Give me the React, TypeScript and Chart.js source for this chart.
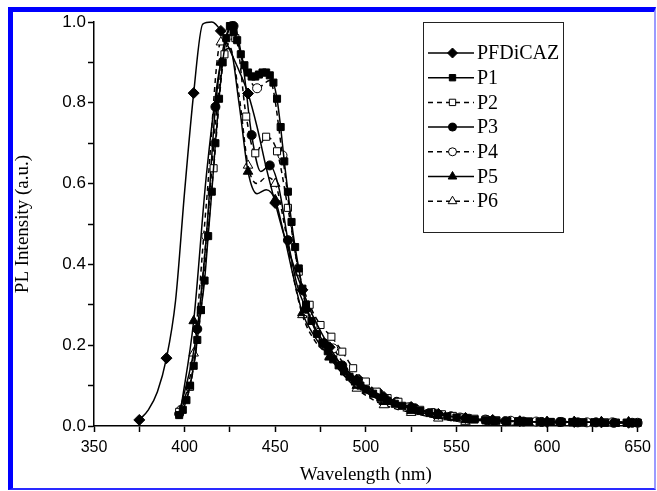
import React, { useEffect, useRef } from 'react';
import { Chart, registerables } from 'chart.js';
import { drawPoint } from 'chart.js/helpers';

Chart.register(...registerables);

// ---------- data ----------
const SERIES_NAMES = ['PFDiCAZ', 'P1', 'P2', 'P3', 'P4', 'P5', 'P6'];

const PFDICAZ_X = [375, 380, 385, 390, 395, 400, 405, 410, 415, 420, 425, 430, 435, 440, 445, 450, 455, 460, 465, 470, 475, 480, 485, 490, 495, 500, 510, 525, 540, 555, 570, 585, 600, 615, 630, 645];
const PFDICAZ_Y = [0.015, 0.04, 0.085, 0.168, 0.31, 0.58, 0.824, 0.995, 1.0, 0.978, 0.93, 0.88, 0.823, 0.74, 0.64, 0.552, 0.47, 0.4, 0.337, 0.28, 0.235, 0.195, 0.16, 0.135, 0.115, 0.098, 0.072, 0.047, 0.03, 0.02, 0.015, 0.012, 0.01, 0.01, 0.009, 0.008];

const P1_X = [397, 399, 401, 403, 405, 407, 409, 411, 413, 415, 417, 419, 421, 423, 425, 427, 429, 431, 433, 435, 437, 439, 441, 443, 445, 447, 449, 451, 453, 455, 457, 459, 461, 463, 465, 467, 470, 473, 476, 479, 482, 485, 488, 491, 494, 497, 500, 504, 508, 512, 516, 520, 525, 530, 535, 540, 545, 550, 555, 560, 566, 572, 578, 584, 590, 596, 602, 608, 614, 620, 626, 632, 638, 644, 650];
const P1_Y = [0.027, 0.04, 0.064, 0.1, 0.149, 0.213, 0.287, 0.36, 0.47, 0.58, 0.7, 0.81, 0.9, 0.96, 0.99, 0.975, 0.955, 0.92, 0.893, 0.875, 0.865, 0.865, 0.87, 0.875, 0.875, 0.868, 0.85, 0.81, 0.74, 0.655, 0.58, 0.505, 0.443, 0.39, 0.34, 0.3, 0.26, 0.228, 0.205, 0.185, 0.165, 0.15, 0.135, 0.122, 0.11, 0.1, 0.09, 0.08, 0.07, 0.062, 0.055, 0.05, 0.043, 0.037, 0.032, 0.028, 0.024, 0.021, 0.018, 0.016, 0.014, 0.013, 0.012, 0.011, 0.011, 0.01, 0.01, 0.01, 0.009, 0.009, 0.009, 0.008, 0.008, 0.008, 0.008];

const P2_X = [397, 403, 409, 416, 422, 428, 434, 439, 445, 451, 457, 463, 469, 475, 481, 487, 493, 500, 506, 512, 518, 524, 530, 536, 542, 548, 554, 560, 566, 572, 578, 584, 590, 596, 602, 608, 614, 620, 626, 632, 638, 644, 650];
const P2_Y = [0.035, 0.097, 0.287, 0.638, 0.92, 0.96, 0.766, 0.675, 0.716, 0.68, 0.54, 0.382, 0.3, 0.25, 0.221, 0.184, 0.143, 0.11, 0.085, 0.069, 0.06, 0.048, 0.04, 0.034, 0.029, 0.025, 0.021, 0.018, 0.016, 0.014, 0.013, 0.012, 0.011, 0.011, 0.01, 0.01, 0.01, 0.009, 0.009, 0.009, 0.008, 0.008, 0.008];

const P3_X = [397, 407, 412, 417, 422, 427, 432, 437, 442, 447, 452, 457, 462, 467, 477, 487, 497, 507, 517, 527, 537, 547, 557, 567, 577, 587, 597, 607, 617, 627, 637, 647];
const P3_Y = [0.03, 0.24, 0.47, 0.79, 0.95, 0.99, 0.9, 0.72, 0.63, 0.645, 0.59, 0.46, 0.35, 0.29, 0.205, 0.15, 0.11, 0.082, 0.06, 0.044, 0.032, 0.024, 0.018, 0.014, 0.012, 0.011, 0.01, 0.01, 0.009, 0.009, 0.008, 0.008];

const P4_X = [398, 405, 412, 419, 426, 433, 440, 447, 454, 461, 468, 482, 496, 510, 524, 538, 552, 566, 580, 594, 608, 622, 636, 650];
const P4_Y = [0.04, 0.15, 0.47, 0.84, 0.99, 0.89, 0.836, 0.855, 0.67, 0.43, 0.283, 0.192, 0.106, 0.069, 0.046, 0.031, 0.021, 0.016, 0.013, 0.011, 0.01, 0.009, 0.009, 0.008];

const P5_X = [398, 405, 412, 420, 425, 430, 435, 440, 445, 450, 455, 460, 465, 472, 480, 487, 495, 502, 510, 525, 540, 555, 570, 585, 600, 615, 630, 645];
const P5_Y = [0.045, 0.26, 0.62, 0.9, 0.935, 0.8, 0.63, 0.575, 0.585, 0.56, 0.47, 0.37, 0.28, 0.22, 0.17, 0.13, 0.1, 0.078, 0.06, 0.038, 0.025, 0.016, 0.012, 0.011, 0.01, 0.01, 0.01, 0.009];

const P6_X = [398, 405, 412, 420, 425, 430, 435, 440, 445, 450, 455, 460, 465, 472, 480, 487, 495, 502, 510, 525, 540, 555, 570, 585, 600, 615, 630, 645];
const P6_Y = [0.03, 0.18, 0.55, 0.95, 0.94, 0.82, 0.645, 0.6, 0.615, 0.6, 0.5, 0.37, 0.275, 0.21, 0.172, 0.13, 0.093, 0.07, 0.052, 0.033, 0.019, 0.011, 0.011, 0.01, 0.01, 0.01, 0.01, 0.01];

const X_TICK_LABELS = ['350', '400', '450', '500', '550', '600', '650'];
const Y_TICK_LABELS = ['0.0', '0.2', '0.4', '0.6', '0.8', '1.0'];

const SERIES_X = [PFDICAZ_X, P1_X, P2_X, P3_X, P4_X, P5_X, P6_X];
const SERIES_Y = [PFDICAZ_Y, P1_Y, P2_Y, P3_Y, P4_Y, P5_Y, P6_Y];

// ---------- styles ----------
type Style = { pointStyle: any; filled: boolean; dashed: boolean; radius: number; markStart: number | null; markStep: number };
const STYLES: Style[] = [
  { pointStyle: 'rectRot', filled: true, dashed: false, radius: 5.5, markStart: 375, markStep: 15 },
  { pointStyle: 'rect', filled: true, dashed: false, radius: 5, markStart: null, markStep: 1 },
  { pointStyle: 'rect', filled: false, dashed: true, radius: 5, markStart: null, markStep: 1 },
  { pointStyle: 'circle', filled: true, dashed: false, radius: 4.5, markStart: 397, markStep: 10 },
  { pointStyle: 'circle', filled: false, dashed: true, radius: 4.5, markStart: 398, markStep: 14 },
  { pointStyle: 'triangle', filled: true, dashed: false, radius: 5.5, markStart: 405, markStep: 15 },
  { pointStyle: 'triangle', filled: false, dashed: true, radius: 5.5, markStart: 405, markStep: 15 },
];

const SERIF = '"Liberation Serif", "Times New Roman", serif';
const SANS = '"Liberation Sans", Arial, sans-serif';

const legendPlugin = {
  id: 'insideLegend',
  afterDraw(chart: any) {
    const ctx = chart.ctx;
    const bx = 423, by = 22, bw = 140, bh = 210;
    ctx.save();
    ctx.setLineDash([]);
    ctx.strokeStyle = '#222';
    ctx.lineWidth = 1;
    ctx.strokeRect(bx + 0.5, by + 0.5, bw, bh);
    chart.data.datasets.forEach((ds: any, i: number) => {
      const st = STYLES[i];
      const cy = 53 + i * 24.7;
      ctx.strokeStyle = '#000';
      ctx.lineWidth = 1.5;
      ctx.setLineDash(st.dashed ? [5, 4] : []);
      ctx.beginPath();
      ctx.moveTo(428, cy);
      ctx.lineTo(474, cy);
      ctx.stroke();
      ctx.setLineDash([]);
      ctx.fillStyle = st.filled ? '#000' : '#fff';
      ctx.lineWidth = 1;
      drawPoint(ctx, { pointStyle: st.pointStyle, radius: st.radius - 0.5, borderWidth: 1, rotation: 0 } as any, 452.5, cy);
      ctx.fillStyle = '#000';
      ctx.font = `20px ${SERIF}`;
      ctx.textBaseline = 'middle';
      ctx.textAlign = 'left';
      ctx.fillText(ds.label, 477, cy + 1);
    });
    ctx.restore();
  },
};

export default function App() {
  const ref = useRef<HTMLCanvasElement | null>(null);

  useEffect(() => {
    if (!ref.current) return;
    const datasets = SERIES_NAMES.map((name, i) => {
      const st = STYLES[i];
      const xs = SERIES_X[i];
      const ys = SERIES_Y[i];
      const isMarker = (idx: number) => {
        if (st.markStart === null) return true;
        const d = xs[idx] - st.markStart;
        return Math.abs(d % st.markStep) < 1e-6;
      };
      return {
        label: name,
        data: xs.map((x, k) => ({ x, y: ys[k] })),
        borderColor: '#000',
        borderWidth: 1.5,
        borderDash: st.dashed ? [5, 4] : [],
        backgroundColor: st.filled ? '#000' : '#fff',
        pointStyle: st.pointStyle,
        pointRadius: (c: any) => (isMarker(c.dataIndex) ? st.radius : 0),
        pointHoverRadius: (c: any) => (isMarker(c.dataIndex) ? st.radius : 0),
        pointBorderColor: '#000',
        pointBackgroundColor: st.filled ? '#000' : '#fff',
        pointBorderWidth: 1,
        cubicInterpolationMode: 'monotone' as const,
        fill: false,
        clip: false as any,
      };
    });

    const chart = new Chart(ref.current, {
      type: 'line',
      data: { datasets },
      plugins: [legendPlugin],
      options: {
        animation: false,
        responsive: false,
        events: [],
        layout: { padding: { left: 0, top: 22, right: 14, bottom: 0 } },
        plugins: { legend: { display: false }, tooltip: { enabled: false } },
        scales: {
          x: {
            type: 'linear',
            min: 350,
            max: 650,
            afterFit: (s: any) => { s.height = 65; },
            border: { display: true, color: '#000', width: 1.5 },
            grid: { drawOnChartArea: false, drawTicks: true, tickLength: 6, tickColor: '#000', tickWidth: 1.5 },
            ticks: {
              stepSize: 25,
              autoSkip: false,
              maxRotation: 0,
              padding: 6,
              color: '#000',
              font: { family: SANS, size: 16 },
              callback: (v: any) => {
                const idx = Math.round((Number(v) - 350) / 50);
                return Math.abs(Number(v) - (350 + idx * 50)) < 1e-6 ? X_TICK_LABELS[idx] : '';
              },
            },
            title: { display: true, text: 'Wavelength (nm)', color: '#000', font: { family: SERIF, size: 19 }, padding: { top: 0, bottom: 5 } },
          },
          y: {
            type: 'linear',
            min: 0,
            max: 1,
            afterFit: (s: any) => { s.width = 94; },
            border: { display: true, color: '#000', width: 1.5 },
            grid: { drawOnChartArea: false, drawTicks: true, tickLength: 6, tickColor: '#000', tickWidth: 1.5 },
            ticks: {
              stepSize: 0.1,
              autoSkip: false,
              padding: 2,
              color: '#000',
              font: { family: SANS, size: 17 },
              callback: (v: any) => {
                const t = Math.round(Number(v) * 10);
                return t % 2 === 0 ? Y_TICK_LABELS[t / 2] : '';
              },
            },
            title: { display: true, text: 'PL Intensity (a.u.)', color: '#000', font: { family: SERIF, size: 19 }, padding: { top: 12, bottom: 0 } },
          },
        },
      },
    });
    return () => chart.destroy();
  }, []);

  return (
    <div>
      <canvas ref={ref} width={657} height={491} style={{ position: 'fixed', left: 0, top: 0, width: 657, height: 491 }} />
      <div
        style={{
          position: 'fixed',
          left: 8,
          top: 7,
          width: 648,
          height: 483,
          boxSizing: 'border-box',
          borderTop: '5px solid #0000ff',
          borderLeft: '5px solid #0000ff',
          borderRight: '2px solid #9a9aff',
          borderBottom: '2px solid #2a2aff',
          pointerEvents: 'none',
        }}
      />
    </div>
  );
}
